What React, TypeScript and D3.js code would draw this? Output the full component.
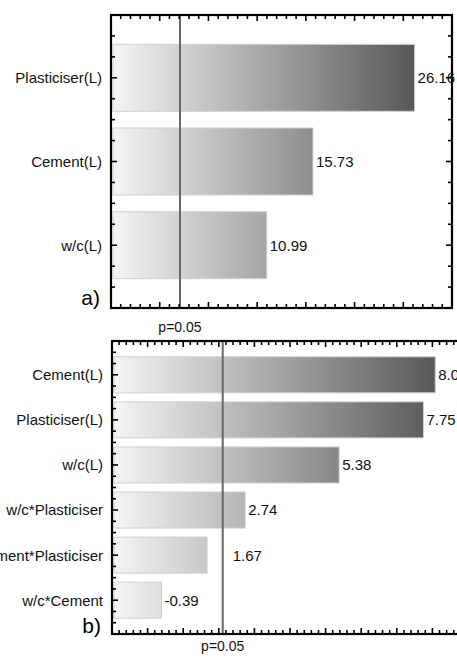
import React from "react";
import * as d3 from "d3";

// ---- Data ----
const topCategories = ["Plasticiser(L)", "Cement(L)", "w/c(L)"];
const topValues = [26.16, 15.73, 10.99];
const topDomain = [-5, 30];
const topPLimit = 2.08;

const bottomCategories = [
  "Cement(L)",
  "Plasticiser(L)",
  "w/c(L)",
  "w/c*Plasticiser",
  "Cement*Plasticiser",
  "w/c*Cement",
];
const bottomValues = [8.08, 7.75, 5.38, 2.74, 1.67, -0.39];
const bottomDomain = [-1, 9];
const bottomPLimit = 2.11;

const pLabel = "p=0.05";
const panelLabels = ["a)", "b)"];

const FONT = "'Liberation Sans', Arial, Helvetica, sans-serif";

type PanelProps = {
  id: string;
  left: number;
  right: number;
  top: number;
  bottom: number;
  categories: string[];
  values: number[];
  domain: number[];
  minorStep: number;
  majorStep: number;
  pLimit: number;
  panelLabel: string;
  panelLabelBaseline: number;
  pLabelBaseline: number;
};

function Panel(p: PanelProps) {
  const x = d3.scaleLinear().domain(p.domain).range([p.left, p.right]);
  const n = p.categories.length;
  const y = d3.scaleLinear().domain([0.25, n + 0.75]).range([p.top, p.bottom]);
  const step = y(2) - y(1);
  const barH = step * 0.8;
  const maxAbs = d3.max(p.values, (v) => Math.abs(v)) as number;
  const fontSize = 15;

  const eps = 1e-6;
  const xTicks = d3.range(p.domain[0], p.domain[1] + eps, p.minorStep);
  const isMajor = (v: number) =>
    Math.abs(v / p.majorStep - Math.round(v / p.majorStep)) < 1e-4;
  const yTicks = d3.range(0.25, n + 0.75 + eps, 0.25);

  const pX = x(p.pLimit);
  const labelX = (v: number) => {
    const s = v.toFixed(2);
    const start = x(Math.abs(v)) + 3;
    const w = s.length * fontSize * 0.53;
    // avoid overlapping the p-limit line
    if (start < pX && start + w > pX - 2) return pX + 10;
    return start;
  };

  return (
    <g>
      <defs>
        <linearGradient
          id={p.id}
          gradientUnits="userSpaceOnUse"
          x1={x(p.domain[0])}
          x2={x(maxAbs)}
          y1={0}
          y2={0}
        >
          <stop offset="0" stopColor="#f6f6f6" />
          <stop offset="1" stopColor="#585858" />
        </linearGradient>
      </defs>
      {p.values.map((v, i) => (
        <rect
          key={"b" + i}
          x={x(p.domain[0]) + 2}
          y={y(i + 1) - barH / 2}
          width={x(Math.abs(v)) - x(p.domain[0]) - 2}
          height={barH}
          fill={`url(#${p.id})`}
          stroke="#d0d0d0"
          strokeWidth={1}
        />
      ))}
      {/* p line */}
      <line x1={pX} x2={pX} y1={p.top} y2={p.bottom} stroke="#676767" strokeWidth={2} />
      {/* ticks */}
      {xTicks.map((v, i) => {
        const len = isMajor(v) ? 6 : 4;
        return (
          <g key={"xt" + i}>
            <line x1={x(v)} x2={x(v)} y1={p.top} y2={p.top + len} stroke="#000" strokeWidth={1.6} />
            <line x1={x(v)} x2={x(v)} y1={p.bottom} y2={p.bottom - len} stroke="#000" strokeWidth={1.6} />
          </g>
        );
      })}
      {yTicks.map((v, i) => {
        const len = Math.abs(v - Math.round(v)) < eps ? 6 : 4;
        return (
          <g key={"yt" + i}>
            <line x1={p.left - 1} x2={p.left + len} y1={y(v)} y2={y(v)} stroke="#000" strokeWidth={1.6} />
            <line x1={p.right + 1} x2={p.right - len} y1={y(v)} y2={y(v)} stroke="#000" strokeWidth={1.6} />
          </g>
        );
      })}
      {/* frame */}
      <rect
        x={p.left}
        y={p.top}
        width={p.right - p.left}
        height={p.bottom - p.top}
        fill="none"
        stroke="#000"
        strokeWidth={2.2}
      />
      {/* category labels */}
      {p.categories.map((c, i) => (
        <text
          key={"c" + i}
          x={p.left - 9}
          y={y(i + 1)}
          dy="0.36em"
          textAnchor="end"
          fontFamily={FONT}
          fontSize={fontSize}
          fill="#111"
        >
          {c}
        </text>
      ))}
      {/* value labels */}
      {p.values.map((v, i) => (
        <text
          key={"v" + i}
          x={labelX(v)}
          y={y(i + 1)}
          dy="0.36em"
          fontFamily={FONT}
          fontSize={fontSize}
          fill="#111"
        >
          {v.toFixed(2)}
        </text>
      ))}
      <text
        x={p.left - 11}
        y={p.panelLabelBaseline}
        textAnchor="end"
        fontFamily={FONT}
        fontSize={21}
        fill="#000"
      >
        {p.panelLabel}
      </text>
      <text
        x={pX}
        y={p.pLabelBaseline}
        textAnchor="middle"
        fontFamily={FONT}
        fontSize={14}
        fill="#111"
      >
        {pLabel}
      </text>
    </g>
  );
}

export default function App() {
  return (
    <svg
      width={457}
      height={659}
      viewBox="0 0 457 659"
      style={{ position: "absolute", left: 0, top: 0, background: "#fff" }}
    >
      <rect x={0} y={0} width={457} height={659} fill="#fff" />
      <Panel
        id="gradA"
        left={111}
        right={452}
        top={15}
        bottom={308}
        categories={topCategories}
        values={topValues}
        domain={topDomain}
        minorStep={1}
        majorStep={5}
        pLimit={topPLimit}
        panelLabel={panelLabels[0]}
        panelLabelBaseline={305}
        pLabelBaseline={332}
      />
      <Panel
        id="gradB"
        left={112}
        right={468}
        top={341}
        bottom={634}
        categories={bottomCategories}
        values={bottomValues}
        domain={bottomDomain}
        minorStep={0.2}
        majorStep={1}
        pLimit={bottomPLimit}
        panelLabel={panelLabels[1]}
        panelLabelBaseline={633}
        pLabelBaseline={651}
      />
    </svg>
  );
}
